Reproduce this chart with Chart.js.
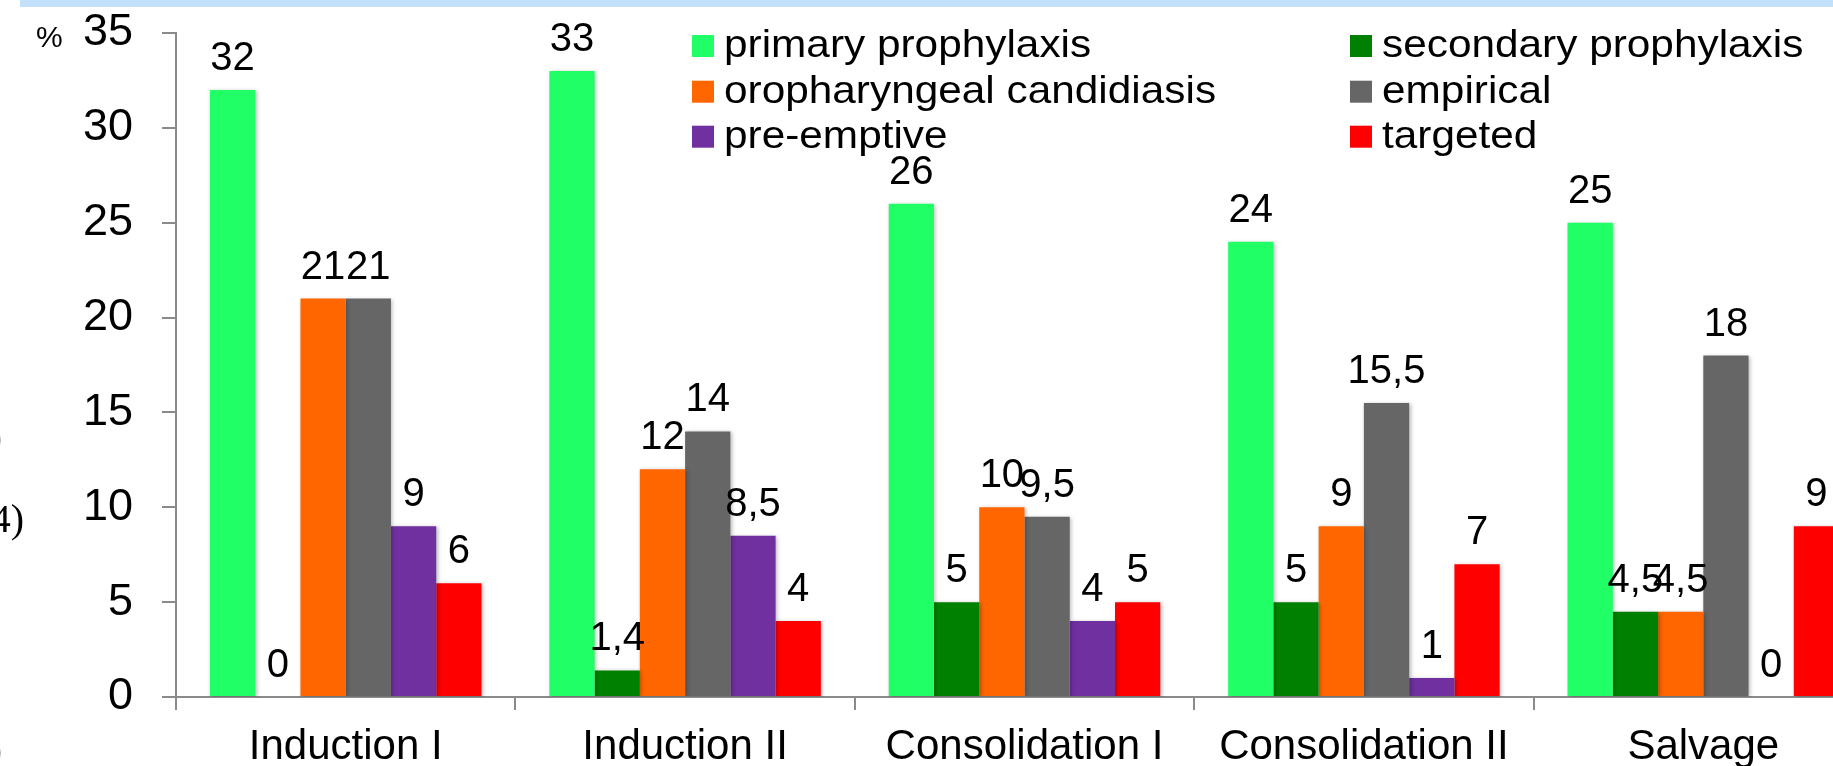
<!DOCTYPE html>
<html>
<head>
<meta charset="utf-8">
<script src="https://cdn.jsdelivr.net/npm/chart.js@4"></script>
<style>
  html, body { margin: 0; padding: 0; overflow: hidden; background: #fff; }
  canvas { display: block; }
</style>
</head>
<body>
<canvas id="c" width="1900" height="766" style="width:1900px;height:766px"></canvas>
<script>
// Antifungal strategy by treatment phase (% of courses)
const phases = ['Induction I', 'Induction II', 'Consolidation I', 'Consolidation II', 'Salvage'];

const primaryProphylaxis   = [32, 33, 26, 24, 25];
const secondaryProphylaxis = [0, 1.4, 5, 5, 4.5];
const oropharyngealCand    = [21, 12, 10, 9, 4.5];
const empirical            = [21, 14, 9.5, 15.5, 18];
const preEmptive           = [9, 8.5, 4, 1, 0];
const targeted             = [6, 4, 5, 7, 9];

const seriesNames = ['primary prophylaxis', 'secondary prophylaxis', 'oropharyngeal candidiasis',
                     'empirical', 'pre-emptive', 'targeted'];
const seriesColors = ['#21FF66', '#008000', '#FF6600', '#666666', '#7030A0', '#FF0000'];
const yTicks = [0, 5, 10, 15, 20, 25, 30, 35];

const FONT = "'Liberation Sans', Arial, Helvetica, sans-serif";
const fmt = v => String(v).replace('.', ',');

const seriesValues = [primaryProphylaxis, secondaryProphylaxis, oropharyngealCand, empirical, preEmptive, targeted];

// soft drop shadow under the bars
const barShadow = {
  id: 'barShadow',
  beforeDatasetsDraw(chart) {
    const ctx = chart.ctx;
    ctx.save();
    ctx.shadowColor = 'rgba(0,0,0,0.28)';
    ctx.shadowBlur = 4;
    ctx.shadowOffsetX = 1.5;
    ctx.shadowOffsetY = 1;
  },
  afterDatasetsDraw(chart) { chart.ctx.restore(); }
};

// background decorations and side text
const decor = {
  id: 'decor',
  beforeDraw(chart) {
    const ctx = chart.ctx;
    ctx.save();
    ctx.fillStyle = '#C2E0FA';
    ctx.fillRect(20, 0, chart.width, 7);
    ctx.restore();
  },
  afterDraw(chart) {
    const ctx = chart.ctx;
    ctx.save();
    ctx.fillStyle = '#000';
    ctx.font = '30px ' + FONT;
    ctx.textAlign = 'left';
    ctx.textBaseline = 'alphabetic';
    ctx.fillText('%', 36, 47);
    ctx.font = "40px 'Liberation Serif', 'Times New Roman', serif";
    ctx.textAlign = 'right';
    ctx.fillText('(n=12)', 2, 450);
    ctx.fillText('(n=14)', 24, 532);
    ctx.fillText('(n=11)', 2, 763);
    ctx.restore();
  }
};

// value labels above bars
const valueLabels = {
  id: 'valueLabels',
  afterDatasetsDraw(chart) {
    const ctx = chart.ctx;
    ctx.save();
    ctx.fillStyle = '#000';
    ctx.font = '40px ' + FONT;
    ctx.textAlign = 'center';
    ctx.textBaseline = 'alphabetic';
    chart.data.datasets.forEach((ds, i) => {
      const meta = chart.getDatasetMeta(i);
      meta.data.forEach((bar, j) => {
        ctx.fillText(fmt(ds.data[j]), bar.x, bar.y - 20);
      });
    });
    ctx.restore();
  }
};

// two-column legend inside the plot
const innerLegend = {
  id: 'innerLegend',
  afterDraw(chart) {
    const ctx = chart.ctx;
    const colX = [692, 1350];
    const rowBase = [57, 102.7, 147.7];
    ctx.save();
    ctx.font = '38.5px ' + FONT;
    ctx.textBaseline = 'alphabetic';
    ctx.textAlign = 'left';
    chart.data.datasets.forEach((ds, i) => {
      const x = colX[i % 2];
      const y = rowBase[Math.floor(i / 2)];
      ctx.fillStyle = ds.backgroundColor;
      ctx.fillRect(x, y - 22, 22, 22);
      ctx.fillStyle = '#000';
      ctx.save();
      ctx.translate(x + 32, y);
      ctx.scale(1.1, 1);
      ctx.fillText(ds.label, 0, 0);
      ctx.restore();
    });
    ctx.restore();
  }
};

new Chart(document.getElementById('c'), {
  type: 'bar',
  data: {
    labels: phases,
    datasets: seriesNames.map((name, i) => ({
      label: name,
      data: seriesValues[i],
      backgroundColor: seriesColors[i],
      borderWidth: 0,
      categoryPercentage: 0.8,
      barPercentage: 1.0
    }))
  },
  options: {
    responsive: false,
    animation: false,
    devicePixelRatio: 1,
    layout: { padding: { top: 33, right: 27, left: 0, bottom: 0 } },
    plugins: { legend: { display: false }, tooltip: { enabled: false } },
    scales: {
      x: {
        afterFit(scale) { scale.height = 69; scale.paddingTop = 0; scale.paddingBottom = 0; },
        grid: { offset: true, drawOnChartArea: false, drawTicks: true, tickLength: 13, color: '#8A8A8A', lineWidth: 2 },
        border: { display: true, color: '#8A8A8A', width: 2 },
        ticks: { color: '#000', font: { family: FONT, size: 42 }, padding: 12, maxRotation: 0, autoSkip: false }
      },
      y: {
        min: 0, max: 35,
        afterFit(scale) { scale.width = 176; scale.paddingTop = 0; scale.paddingBottom = 0; },
        afterBuildTicks(scale) { scale.ticks = yTicks.map(v => ({ value: v })); },
        grid: { drawOnChartArea: false, drawTicks: true, tickLength: 14, color: '#8A8A8A', lineWidth: 2 },
        border: { display: true, color: '#8A8A8A', width: 2 },
        ticks: { color: '#000', font: { family: FONT, size: 45 }, padding: 29 }
      }
    }
  },
  plugins: [decor, barShadow, valueLabels, innerLegend]
});
</script>
</body>
</html>
